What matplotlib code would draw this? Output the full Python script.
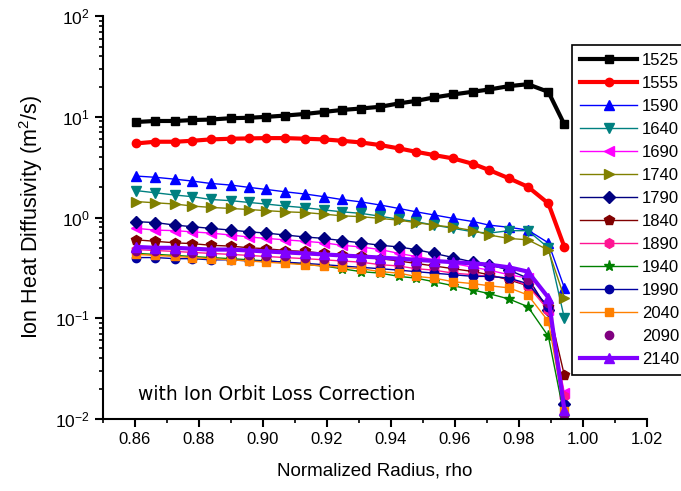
import numpy as np
import matplotlib
matplotlib.use("Agg")
import matplotlib.pyplot as plt
from matplotlib.ticker import MultipleLocator, LogLocator, NullFormatter

plt.rcParams['font.family'] = ['Liberation Sans', 'DejaVu Sans']
plt.rcParams['mathtext.fontset'] = 'custom'
plt.rcParams['mathtext.rm'] = 'Liberation Sans'

# radial grid
rho = [0.8605, 0.8664, 0.8727, 0.8780, 0.8837, 0.8900, 0.8958, 0.9011,
       0.9070, 0.9133, 0.9191, 0.9246, 0.9306, 0.9367, 0.9425, 0.9478,
       0.9535, 0.9595, 0.9658, 0.9707, 0.9769, 0.9828, 0.9892, 0.9942]

chi_1525 = [8.9, 9.1, 9.1, 9.3, 9.4, 9.7, 9.8, 10.0, 10.3, 10.7, 11.2, 11.7,
            12.1, 12.6, 13.6, 14.4, 15.6, 16.7, 17.8, 18.7, 20.2, 21.1, 17.7, 8.4]
chi_1555 = [5.45, 5.66, 5.66, 5.79, 5.97, 6.06, 6.11, 6.15, 6.15, 6.06, 5.97, 5.79,
            5.57, 5.24, 4.86, 4.50, 4.17, 3.86, 3.40, 2.96, 2.45, 2.02, 1.38, 0.51]
chi_1590 = [2.58, 2.51, 2.40, 2.30, 2.18, 2.10, 1.99, 1.90, 1.80, 1.71, 1.61, 1.51,
            1.43, 1.33, 1.23, 1.14, 1.06, 0.98, 0.91, 0.84, 0.80, 0.75, 0.56, 0.20]
chi_1640 = [1.85, 1.76, 1.67, 1.61, 1.51, 1.47, 1.41, 1.36, 1.30, 1.25, 1.19, 1.14,
            1.10, 1.03, 0.96, 0.91, 0.84, 0.78, 0.72, 0.70, 0.74, 0.74, 0.50, 0.10]
chi_1690 = [0.78, 0.75, 0.74, 0.72, 0.70, 0.67, 0.64, 0.62, 0.60, 0.58, 0.56, 0.53,
            0.51, 0.48, 0.44, 0.41, 0.38, 0.35, 0.32, 0.30, 0.27, 0.25, 0.12, 0.018]
chi_1740 = [1.44, 1.40, 1.36, 1.30, 1.26, 1.23, 1.20, 1.17, 1.14, 1.12, 1.08, 1.04,
            1.02, 0.98, 0.94, 0.89, 0.84, 0.80, 0.74, 0.67, 0.62, 0.60, 0.475, 0.16]
chi_1790 = [0.91, 0.89, 0.84, 0.81, 0.78, 0.75, 0.72, 0.70, 0.67, 0.64, 0.62, 0.59,
            0.56, 0.53, 0.51, 0.48, 0.44, 0.40, 0.36, 0.34, 0.30, 0.25, 0.12, 0.014]
chi_1840 = [0.60, 0.58, 0.56, 0.55, 0.53, 0.52, 0.50, 0.49, 0.47, 0.46, 0.44, 0.42,
            0.41, 0.39, 0.37, 0.35, 0.33, 0.31, 0.29, 0.27, 0.24, 0.21, 0.13, 0.027]
chi_1890 = [0.48, 0.47, 0.46, 0.45, 0.44, 0.43, 0.42, 0.41, 0.40, 0.39, 0.38, 0.37,
            0.36, 0.34, 0.33, 0.31, 0.30, 0.28, 0.27, 0.26, 0.25, 0.21, 0.12, 0.017]
chi_1940 = [0.44, 0.43, 0.42, 0.41, 0.40, 0.39, 0.38, 0.37, 0.36, 0.34, 0.33, 0.31,
            0.29, 0.28, 0.26, 0.25, 0.23, 0.21, 0.19, 0.175, 0.155, 0.13, 0.066, 0.0105]
chi_1990 = [0.40, 0.40, 0.39, 0.39, 0.38, 0.38, 0.37, 0.37, 0.36, 0.35, 0.34, 0.33,
            0.32, 0.31, 0.30, 0.29, 0.28, 0.27, 0.26, 0.26, 0.25, 0.22, 0.13, 0.014]
chi_2040 = [0.43, 0.42, 0.41, 0.40, 0.39, 0.38, 0.37, 0.36, 0.35, 0.34, 0.33, 0.32,
            0.31, 0.29, 0.28, 0.26, 0.25, 0.23, 0.22, 0.21, 0.20, 0.17, 0.093, 0.012]
chi_2090 = [0.46, 0.46, 0.45, 0.44, 0.44, 0.43, 0.42, 0.41, 0.41, 0.40, 0.39, 0.38,
            0.37, 0.36, 0.35, 0.34, 0.33, 0.32, 0.31, 0.30, 0.29, 0.24, 0.14, 0.010]
chi_2140 = [0.51, 0.50, 0.50, 0.49, 0.48, 0.48, 0.47, 0.46, 0.45, 0.44, 0.43, 0.42,
            0.41, 0.40, 0.39, 0.38, 0.37, 0.36, 0.35, 0.34, 0.32, 0.29, 0.16, 0.0123]

# (label, data, colour, marker, linewidth, markersize, linestyle)
series = [
    ("1525", chi_1525, "black",   "s", 3.0, 6, "-"),
    ("1555", chi_1555, "red",     "o", 3.0, 6, "-"),
    ("1590", chi_1590, "blue",    "^", 1.0, 7, "-"),
    ("1640", chi_1640, "#008080", "v", 1.0, 7, "-"),
    ("1690", chi_1690, "magenta", "<", 1.0, 7, "-"),
    ("1740", chi_1740, "#808000", ">", 1.0, 7, "-"),
    ("1790", chi_1790, "#000080", "D", 1.0, 6, "-"),
    ("1840", chi_1840, "#800000", "p", 1.0, 7, "-"),
    ("1890", chi_1890, "#FF1493", "h", 1.0, 7, "-"),
    ("1940", chi_1940, "#008000", "*", 1.0, 8, "-"),
    ("1990", chi_1990, "#0000A0", "o", 1.0, 6, "-"),
    ("2040", chi_2040, "#FF8000", "s", 1.0, 6, "-"),
    ("2090", chi_2090, "#800080", "o", 1.0, 6, "none"),
    ("2140", chi_2140, "#8000FF", "^", 3.0, 7, "-"),
]

fig = plt.figure(figsize=(6.81, 4.91), dpi=100)
ax = fig.add_axes([0.151, 0.147, 0.799, 0.820])

for label, y, c, m, lw, ms, ls in series:
    ax.plot(rho, y, color=c, marker=m, lw=lw, ms=ms, ls=ls, label=label)

ax.set_yscale('log')
ax.set_xlim(0.85, 1.02)
ax.set_ylim(1e-2, 1e2)
ax.xaxis.set_major_locator(MultipleLocator(0.02))
ax.xaxis.set_minor_locator(MultipleLocator(0.01))
ax.xaxis.set_major_formatter(plt.FormatStrFormatter('%.2f'))
ax.yaxis.set_major_locator(LogLocator(base=10, numticks=10))
ax.yaxis.set_minor_locator(LogLocator(base=10, subs=np.arange(2, 10), numticks=10))
ax.yaxis.set_minor_formatter(NullFormatter())

ax.spines['top'].set_visible(False)
ax.spines['right'].set_visible(False)
ax.spines['left'].set_linewidth(1.5)
ax.spines['bottom'].set_linewidth(1.5)
ax.tick_params(which='major', direction='out', length=6, width=1.5, labelsize=12)
ax.tick_params(axis='y', which='major', labelsize=12.5)
ax.tick_params(which='minor', direction='out', length=3, width=1.2)

ax.set_xlabel("Normalized Radius, rho", fontsize=13.5, labelpad=11)
ax.set_ylabel("Ion Heat Diffusivity (m$^2$/s)", fontsize=15.5, labelpad=7)

ax.text(0.861, 0.0173, "with Ion Orbit Loss Correction", fontsize=13.5,
        family=['DejaVu Sans'], va='center')

leg = fig.legend(loc='upper left', bbox_to_anchor=(0.840, 0.909), fontsize=12,
                 frameon=True, fancybox=False, edgecolor='black', framealpha=1,
                 handlelength=3.4, handletextpad=0.3, borderpad=0.5,
                 labelspacing=0.48, borderaxespad=0)
leg.get_frame().set_linewidth(1.2)

fig.savefig("out.png", dpi=100)
